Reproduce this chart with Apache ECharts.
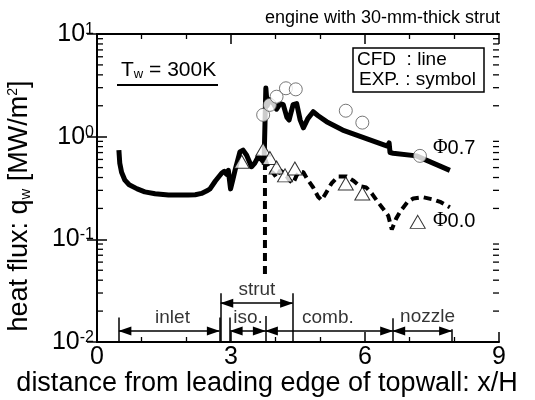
<!DOCTYPE html>
<html>
<head>
<meta charset="utf-8">
<script src="https://cdn.jsdelivr.net/npm/echarts@6/dist/echarts.min.js"></script>
<style>
  html, body { margin: 0; padding: 0; background: #fff; }
  #chart { width: 535px; height: 400px; }
</style>
</head>
<body>
<div id="chart"></div>
<script>
// CFD result, phi = 0.7 (solid line)  [x/H, q_w MW/m2]
const cfdPhi07 = [
  [0.49, 0.74], [0.51, 0.55], [0.55, 0.45], [0.62, 0.38], [0.72, 0.34], [0.9, 0.31],
  [1.07, 0.29], [1.3, 0.278], [1.6, 0.27], [2.04, 0.27], [2.2, 0.272], [2.34, 0.28],
  [2.45, 0.295], [2.53, 0.31], [2.65, 0.37], [2.79, 0.44], [2.85, 0.46], [2.9, 0.43],
  [2.94, 0.47], [2.99, 0.31], [3.04, 0.38], [3.09, 0.47], [3.2, 0.71], [3.27, 0.74],
  [3.35, 0.66], [3.46, 0.51], [3.53, 0.55], [3.61, 0.64], [3.68, 0.6], [3.74, 0.56],
  [3.78, 0.58], [3.78, 2.98], [3.81, 2.0], [3.87, 2.3], [3.95, 2.1], [4.02, 1.85],
  [4.1, 2.1], [4.17, 2.05], [4.25, 1.55], [4.3, 1.45], [4.39, 2.05], [4.47, 2.1],
  [4.55, 1.45], [4.62, 1.22], [4.72, 1.5], [4.84, 1.75], [4.95, 1.6], [5.14, 1.4],
  [5.5, 1.16], [6.0, 0.97], [6.5, 0.81], [6.54, 0.87], [6.56, 0.7], [6.63, 0.69],
  [7.15, 0.65], [7.9, 0.47]
];

// CFD result, phi = 0.0 (dashed line)
const cfdPhi00 = [
  [3.76, 0.046], [3.76, 0.62], [3.8, 0.55], [3.87, 0.47], [3.95, 0.44], [4.02, 0.4],
  [4.1, 0.47], [4.2, 0.44], [4.3, 0.38], [4.39, 0.35], [4.47, 0.42], [4.54, 0.46],
  [4.62, 0.45], [4.7, 0.39], [4.84, 0.32], [4.95, 0.26], [5.03, 0.24], [5.12, 0.28],
  [5.25, 0.35], [5.4, 0.41], [5.59, 0.41], [5.75, 0.37], [5.88, 0.33], [6.03, 0.32],
  [6.15, 0.28], [6.26, 0.24], [6.4, 0.2], [6.52, 0.17], [6.6, 0.125], [6.63, 0.12],
  [6.7, 0.16], [6.8, 0.19], [6.95, 0.23], [7.08, 0.25], [7.3, 0.257], [7.52, 0.245],
  [7.7, 0.23], [7.9, 0.205]
];

// experiment, phi = 0.7 (circles)
const expPhi07 = [
  [3.72, 1.63], [3.87, 2.04], [4.02, 2.45], [4.23, 2.96], [4.45, 2.89],
  [5.57, 1.79], [5.94, 1.37], [7.23, 0.65]
];

// experiment, phi = 0.0 (triangles)
const expPhi00 = [
  [3.24, 0.57], [3.72, 0.75], [3.87, 0.62], [4.02, 0.5], [4.21, 0.42], [4.43, 0.49],
  [5.57, 0.35], [5.94, 0.28], [7.18, 0.148]
];

const yMinorTicks = [];
[0.01, 0.1, 1].forEach(d => { for (let k = 2; k <= 9; k++) yMinorTicks.push(+(d * k).toPrecision(3)); });

// engine sections along the bottom: [from, to, y]
const sectionArrows = [
  [0.49, 2.74, 0.0128], [2.98, 3.77, 0.0128], [3.77, 6.62, 0.0128],
  [6.62, 7.94, 0.0128], [2.77, 4.38, 0.0239]
];
// vertical bars: [x, top]
const sectionBars = [
  [0.49, 0.0173], [2.74, 0.0173], [2.77, 0.0298], [2.98, 0.0173], [3.77, 0.0179],
  [4.38, 0.0298], [6.62, 0.017], [7.94, 0.0133]
];
const sectionLabels = [
  ['inlet', 1.69, 0.0172], ['iso.', 3.38, 0.0172], ['comb.', 5.17, 0.0172],
  ['nozzle', 7.4, 0.0175], ['strut', 3.58, 0.0323]
];

const FONT = 'Liberation Sans';
const chart = echarts.init(document.getElementById('chart'));

const tickRich = {
  b: { fontSize: 25, lineHeight: 25, verticalAlign: 'bottom', color: '#000', fontFamily: FONT },
  sup: { fontSize: 16, lineHeight: 16, verticalAlign: 'top', padding: [0, 0, 12, 0], color: '#000', fontFamily: FONT }
};

function yAxisOf(position) {
  return {
    type: 'log', logBase: 10, min: 0.01, max: 10, position: position,
    axisLine: { show: true, lineStyle: { color: '#000', width: 2 } },
    axisTick: { inside: true, length: 10, lineStyle: { color: '#000', width: 1.5 } },
    axisLabel: position === 'left'
      ? { show: true, margin: 3, formatter: v => '{b|10}{sup|' + Math.round(Math.log10(v)) + '}', rich: tickRich }
      : { show: false },
    splitLine: { show: false },
    minorTick: { show: false }
  };
}

function xAxisOf(position) {
  return {
    type: 'value', min: 0, max: 9, interval: 3, position: position,
    axisLine: { lineStyle: { color: '#000', width: 2 } },
    axisTick: { inside: true, length: 10, lineStyle: { color: '#000', width: 1.5 } },
    minorTick: { show: true, splitNumber: 3, length: 5, lineStyle: { color: '#000', width: 1.3 } },
    axisLabel: position === 'bottom'
      ? { show: true, fontSize: 25, color: '#000', fontFamily: FONT, margin: 3, showMinLabel: true, showMaxLabel: true }
      : { show: false },
    splitLine: { show: false },
    minorSplitLine: { show: false }
  };
}

const arrowLines = sectionArrows.map(a => [{ coord: [a[0], a[2]] }, { coord: [a[1], a[2]] }]);
const barLines = sectionBars.map(b => [{ coord: [b[0], 0.01], symbol: 'none' }, { coord: [b[0], b[1]], symbol: 'none' }]);

chart.setOption({
  animation: false,
  backgroundColor: '#fff',
  grid: { left: 97, right: 36, top: 34, bottom: 58, outerBoundsMode: 'none' },
  xAxis: [xAxisOf('bottom'), xAxisOf('top')],
  yAxis: [yAxisOf('left'), yAxisOf('right')],
  series: [
    {
      name: 'CFD phi0.7', type: 'line', data: cfdPhi07, symbol: 'none', z: 3,
      lineStyle: { color: '#000', width: 5, join: 'round' }
    },
    {
      name: 'CFD phi0.0', type: 'line', data: cfdPhi00, symbol: 'none', z: 3,
      lineStyle: { color: '#000', width: 4, type: [8, 5] }
    },
    {
      name: 'EXP phi0.7', type: 'scatter', data: expPhi07, symbol: 'circle', symbolSize: 13, z: 5,
      itemStyle: { color: '#fff', borderColor: '#555', borderWidth: 1 }
    },
    {
      name: 'EXP phi0.0', type: 'scatter', data: expPhi00, symbol: 'triangle', symbolSize: [15, 13], z: 5,
      itemStyle: { color: '#fff', borderColor: '#000', borderWidth: 1 }
    },
    {
      // minor log ticks (2..9 in every decade), left and right frame
      name: 'minor ticks', type: 'custom', silent: true, z: 4,
      data: yMinorTicks.map(v => [0, v]),
      renderItem: (params, api) => {
        const v = api.value(1);
        const l = api.coord([0, v]);
        const r = api.coord([9, v]);
        const st = { stroke: '#000', lineWidth: 1.3 };
        return {
          type: 'group', children: [
            { type: 'line', shape: { x1: l[0], y1: l[1], x2: l[0] + 6, y2: l[1] }, style: st },
            { type: 'line', shape: { x1: r[0] - 6, y1: r[1], x2: r[0], y2: r[1] }, style: st }
          ]
        };
      }
    },
    {
      name: 'sections', type: 'line', data: [], symbol: 'none',
      markLine: {
        silent: true, animation: false,
        symbol: ['triangle', 'triangle'], symbolSize: [9, 13], symbolOffset: [[0, 6], [0, 6]],
        label: { show: false },
        lineStyle: { color: '#000', width: 1.5, type: 'solid' },
        emphasis: { disabled: true },
        data: arrowLines.concat(barLines)
      }
    },
    {
      name: 'section labels', type: 'scatter', symbolSize: 1, silent: true,
      itemStyle: { color: 'rgba(0,0,0,0)' },
      data: sectionLabels.map(s => ({ name: s[0], value: [s[1], s[2]] })),
      label: { show: true, position: 'inside', formatter: '{b}', fontSize: 19, color: '#000', fontFamily: FONT }
    }
  ],
  graphic: [
    { type: 'text', x: 500, y: 18, style: { text: 'engine with 30-mm-thick strut', fontSize: 18, fontFamily: FONT, fill: '#000', align: 'right', verticalAlign: 'middle' } },
    { type: 'text', x: 121, y: 70, style: {
        text: '{a|T}{s|w}{a| = 300K}', align: 'left', verticalAlign: 'middle',
        rich: { a: { fontSize: 21, fontFamily: FONT, fill: '#000', verticalAlign: 'bottom' }, s: { fontSize: 13, fontFamily: FONT, fill: '#000', verticalAlign: 'bottom' } } } },
    { type: 'line', shape: { x1: 117, y1: 85, x2: 218, y2: 85 }, style: { stroke: '#000', lineWidth: 2 } },
    { type: 'rect', shape: { x: 353, y: 48, width: 131, height: 44 }, style: { stroke: '#000', lineWidth: 1.5, fill: '#fff' }, z: 10 },
    { type: 'text', x: 357, y: 60, z: 11, style: { text: 'CFD  : line', fontSize: 19, fontFamily: FONT, fill: '#000', verticalAlign: 'middle' } },
    { type: 'text', x: 359, y: 80, z: 11, style: { text: 'EXP. : symbol', fontSize: 19, fontFamily: FONT, fill: '#000', verticalAlign: 'middle' } },
    { type: 'text', x: 433, y: 148, style: {
        text: '{p|\u03A6}{t|0.7}', verticalAlign: 'middle',
        rich: { p: { fontSize: 20, fontFamily: 'Liberation Serif', fill: '#000' }, t: { fontSize: 20, fontFamily: FONT, fill: '#000' } } } },
    { type: 'text', x: 433, y: 221, style: {
        text: '{p|\u03A6}{t|0.0}', verticalAlign: 'middle',
        rich: { p: { fontSize: 20, fontFamily: 'Liberation Serif', fill: '#000' }, t: { fontSize: 20, fontFamily: FONT, fill: '#000' } } } },
    { type: 'text', x: 20, y: 206, rotation: Math.PI / 2, style: {
        text: '{a|heat flux: q}{s|w}{a| [MW/m}{u|2}{a|]}', align: 'center', verticalAlign: 'middle',
        rich: {
          a: { fontSize: 27, fontFamily: FONT, fill: '#000', verticalAlign: 'bottom' },
          s: { fontSize: 15, fontFamily: FONT, fill: '#000', verticalAlign: 'bottom' },
          u: { fontSize: 14, fontFamily: FONT, fill: '#000', verticalAlign: 'top', padding: [0, 0, 12, 0] }
        } } },
    { type: 'text', x: 267, y: 384, style: { text: 'distance from leading edge of topwall: x/H', fontSize: 27, fontFamily: FONT, fill: '#000', align: 'center', verticalAlign: 'middle' } }
  ]
});
</script>
</body>
</html>
